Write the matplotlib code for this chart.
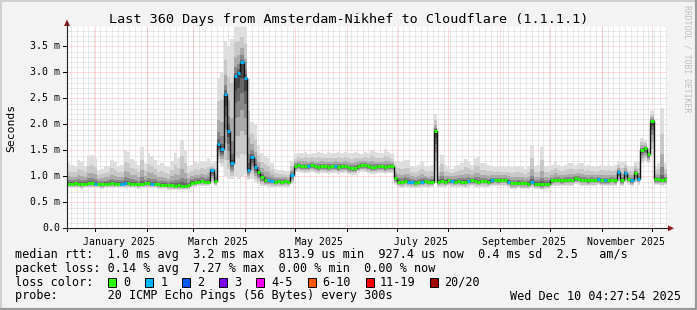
import numpy as np
import matplotlib
matplotlib.use("Agg")
import matplotlib.pyplot as plt
from matplotlib.patches import Rectangle, Polygon
from datetime import datetime, timedelta

# ---------------- data ----------------
title = "Last 360 Days from Amsterdam-Nikhef to Cloudflare (1.1.1.1)"
end_time = datetime(2025, 12, 10, 4, 27, 54)
span_days = 360
bin_days = 2

# median rtt (ms) per 2-day bin
median_ms = (
    [0.86, 0.86, 0.87, 0.86, 0.85, 0.86, 0.87, 0.87, 0.86, 0.86, 0.85, 0.86, 0.86, 0.87,
     0.86, 0.86, 0.86, 0.87, 0.87, 0.86, 0.86, 0.85, 0.86, 0.87, 0.87, 0.86, 0.86, 0.85]
    + [0.84, 0.84, 0.83, 0.83, 0.82, 0.83, 0.82, 0.82, 0.83]
    + [0.88, 0.89, 0.90, 0.91, 0.90, 0.90, 1.12, 0.91]
    + [1.62, 1.52, 2.58, 1.88, 1.26, 2.92, 2.99, 3.19, 2.89, 1.12, 1.38, 1.18, 1.09, 0.99]
    + [0.93, 0.92, 0.91, 0.90, 0.91, 0.90, 0.91, 0.90, 1.03]
    + [1.20, 1.21, 1.20, 1.19, 1.20, 1.21, 1.19, 1.18, 1.20, 1.19, 1.18, 1.19, 1.20, 1.18,
       1.19, 1.20, 1.17, 1.16, 1.16, 1.20, 1.22, 1.21, 1.19, 1.18, 1.18, 1.19, 1.19, 1.18,
       1.19, 1.19, 0.96]
    + [0.90, 0.89, 0.91, 0.90, 0.89, 0.88, 0.89, 0.90, 0.91, 0.89, 0.90, 1.88, 0.90, 0.91,
       0.90, 0.92, 0.91, 0.90, 0.91, 0.90, 0.89, 0.91, 0.92, 0.91, 0.90, 0.91, 0.91, 0.90,
       0.92, 0.93, 0.92]
    + [0.93, 0.93, 0.90, 0.87, 0.87, 0.88, 0.87, 0.87, 0.86, 0.89, 0.86, 0.86, 0.85, 0.86,
       0.86, 0.92, 0.93, 0.93, 0.92, 0.93, 0.93, 0.93, 0.96, 0.95, 0.93, 0.93, 0.92, 0.93,
       0.93, 0.94, 0.92, 0.92, 0.92, 0.93, 0.92, 1.09, 0.92, 1.07, 0.95, 0.92, 1.07, 0.95,
       1.51, 1.54, 1.42, 2.07, 0.94, 0.94, 0.93, 0.94]
)

# highest ping (ms) per bin -> top of the smoke
smoke_max_ms = (
    [1.25, 1.22, 1.20, 1.31, 1.28, 1.20, 1.39, 1.41, 1.36, 1.12, 1.15, 1.19, 1.20, 1.31,
     1.28, 1.20, 1.22, 1.50, 1.47, 1.34, 1.30, 1.22, 1.57, 1.25, 1.44, 1.40, 1.31, 1.22,
     1.25, 1.20, 1.18, 1.30, 1.44, 1.35, 1.70, 1.50, 1.20, 1.22, 1.28, 1.25, 1.30, 1.27,
     1.35, 1.25, 1.30]
    + [2.90, 3.00, 3.60, 3.50, 3.65, 3.95, 3.95, 3.95, 3.90, 2.90, 2.05, 2.00, 1.60, 1.45]
    + [1.40, 1.35, 1.25, 1.15, 1.12, 1.12, 1.10, 1.10, 1.30]
    + [1.42, 1.45, 1.44, 1.46, 1.43, 1.45, 1.44, 1.47, 1.45, 1.43, 1.46, 1.44, 1.45, 1.47,
       1.44, 1.46, 1.45, 1.44, 1.47, 1.45, 1.43, 1.46, 1.45, 1.51, 1.46, 1.44, 1.45, 1.52,
       1.46, 1.42, 1.30]
    + [1.30, 1.28, 1.31, 1.31, 1.20, 1.18, 1.22, 1.28, 1.20, 1.18, 1.22, 2.20, 1.20, 1.41,
       1.22, 1.18, 1.15, 1.20, 1.22, 1.25, 1.33, 1.30, 1.22, 1.35, 1.38, 1.25, 1.25, 1.22,
       1.20, 1.18, 1.20]
    + [1.18, 1.18, 1.20, 1.18, 1.20, 1.20, 1.18, 1.15, 1.20, 1.60, 1.20, 1.22, 1.57, 1.20,
       1.20, 1.22, 1.28, 1.22, 1.20, 1.22, 1.25, 1.25, 1.22, 1.25, 1.25, 1.20, 1.22, 1.20,
       1.18, 1.20, 1.22, 1.20, 1.22, 1.20, 1.22, 1.30, 1.28, 1.30, 1.20, 1.20, 1.28, 1.28,
       1.74, 1.70, 1.55, 2.25, 1.20, 1.25, 2.32, 1.25]
)

# lowest ping (ms) per bin -> bottom of the smoke
smoke_min_ms = (
    [0.77, 0.77, 0.78, 0.77, 0.76, 0.77, 0.78, 0.77, 0.77, 0.77, 0.76, 0.77, 0.77, 0.78,
     0.77, 0.77, 0.77, 0.78, 0.77, 0.77, 0.77, 0.76, 0.77, 0.78, 0.78, 0.77, 0.77, 0.76]
    + [0.75, 0.75, 0.74, 0.74, 0.73, 0.74, 0.73, 0.73, 0.74]
    + [0.79, 0.80, 0.81, 0.81, 0.81, 0.81, 0.85, 0.81]
    + [1.25, 1.20, 1.00, 0.95, 0.95, 1.00, 0.95, 1.00, 1.05, 0.92, 0.95, 0.90, 0.85, 0.82]
    + [0.81, 0.80, 0.80, 0.79, 0.80, 0.79, 0.80, 0.79, 0.85]
    + [1.08, 1.08, 1.07, 1.06, 1.07, 1.08, 1.06, 1.05, 1.07, 1.06, 1.05, 1.06, 1.07, 1.05,
       1.06, 1.07, 1.04, 1.03, 1.03, 1.07, 1.09, 1.08, 1.06, 1.05, 1.05, 1.06, 1.06, 1.05,
       1.06, 1.06, 0.84]
    + [0.79, 0.78, 0.80, 0.79, 0.78, 0.77, 0.78, 0.79, 0.80, 0.78, 0.79, 0.90, 0.79, 0.80,
       0.79, 0.81, 0.80, 0.79, 0.80, 0.79, 0.78, 0.80, 0.81, 0.80, 0.79, 0.80, 0.80, 0.79,
       0.81, 0.82, 0.81]
    + [0.82, 0.82, 0.79, 0.76, 0.76, 0.77, 0.76, 0.76, 0.75, 0.78, 0.75, 0.75, 0.74, 0.75,
       0.75, 0.81, 0.82, 0.82, 0.81, 0.82, 0.82, 0.82, 0.85, 0.84, 0.82, 0.82, 0.81, 0.82,
       0.82, 0.83, 0.81, 0.81, 0.81, 0.82, 0.81, 0.88, 0.81, 0.88, 0.84, 0.81, 0.88, 0.84,
       1.25, 1.30, 1.25, 1.40, 0.83, 0.83, 0.82, 0.83]
)

# bins whose median had 1 of 20 pings lost
loss_one_bins = [8, 16, 17, 25, 43, 45, 46, 47, 48, 49, 50, 51, 52, 53, 54, 55, 56,
                 60, 61, 67, 72, 80, 102, 103, 106, 115, 120, 127, 132, 139, 159, 161,
                 165, 167, 169, 171]

y_ticks = [0.0, 0.5, 1.0, 1.5, 2.0, 2.5, 3.0, 3.5]
y_tick_labels = ["0.0", "0.5 m", "1.0 m", "1.5 m", "2.0 m", "2.5 m", "3.0 m", "3.5 m"]
month_labels = ["January 2025", "March 2025", "May 2025", "July 2025",
                "September 2025", "November 2025"]
label_months = [(2025, 1), (2025, 3), (2025, 5), (2025, 7), (2025, 9), (2025, 11)]

loss_labels = ["0", "1", "2", "3", "4-5", "6-10", "11-19", "20/20"]
loss_colors = ["#26ff00", "#00b8ff", "#0059ff", "#7e00ff", "#ff00ff",
               "#ff5500", "#ff0000", "#a10000"]

stat_rows = [
    "median rtt:  1.0 ms avg  3.2 ms max  813.9 us min  927.4 us now  0.4 ms sd  2.5   am/s",
    "packet loss: 0.14 % avg  7.27 % max  0.00 % min  0.00 % now",
    "loss color:",
    "probe:       20 ICMP Echo Pings (56 Bytes) every 300s",
]
timestamp = "Wed Dec 10 04:27:54 2025"

# ---------------- figure ----------------
W, H = 697, 310
MONO = "DejaVu Sans Mono"
fig = plt.figure(figsize=(W / 100, H / 100), dpi=100, facecolor="#f3f3f3")

x0, x1 = 67, 667
y_bot, y_top = 228.3, 27.1
ax = fig.add_axes([x0 / W, (H - y_bot) / H, (x1 - x0) / W, (y_bot - y_top) / H])
ax.set_facecolor("white")
ax.set_xlim(0, span_days)
ax.set_ylim(0, 3.87)
for s in ax.spines.values():
    s.set_visible(False)
ax.tick_params(which="both", length=0, labelbottom=False, labelleft=False)

start_time = end_time - timedelta(days=span_days)


def day_of(dt):
    return (dt - start_time).total_seconds() / 86400.0


med = np.array(median_ms)
hi = np.array(smoke_max_ms)
lo = np.array(smoke_min_ms)
n = len(med)
edges = np.arange(n + 1) * bin_days
loss = np.zeros(n, dtype=int)
loss[loss_one_bins] = 1

# grid (under the smoke)
minor_c = (0.5, 0.5, 0.5, 0.32)
major_c = (1.0, 0.0, 0.0, 0.28)
dot = (0, (1, 1))
for v in np.round(np.arange(0.1, 3.87, 0.1), 2):
    if abs(v / 0.5 - round(v / 0.5)) < 1e-6:
        continue
    ax.axhline(v, color=minor_c, lw=0.72, ls=dot, zorder=1)
anchor = day_of(datetime(2025, 1, 4))
d = anchor - 3.5 * int(anchor / 3.5)
while d < span_days:
    ax.axvline(d, color=minor_c, lw=0.72, ls=dot, zorder=1)
    d += 3.5
for v in y_ticks[1:]:
    ax.axhline(v, color=major_c, lw=0.72, ls=dot, zorder=1)
month_starts = []
for m in range(1, 13):
    month_starts.append(day_of(datetime(2025, m, 1)))
for d in month_starts:
    ax.axvline(d, color=major_c, lw=0.72, ls=dot, zorder=1)

# smoke: layered shades, darker close to the median
layers = [(1.00, "#dedede"), (0.80, "#c8c8c8"), (0.60, "#aaaaaa"),
          (0.42, "#888888"), (0.27, "#666666"), (0.14, "#444444")]
for f, c in layers:
    up = med + (hi - med) * f ** 2
    dn = med - (med - lo) * f
    ax.stairs(up, edges, baseline=dn, fill=True, color=c, lw=0, zorder=2)

# median line: black transitions, coloured by loss
ax.stairs(med, edges, baseline=None, color="#111111", lw=1.0, zorder=4)
for i in range(n):
    ax.hlines(med[i], edges[i], edges[i + 1], color=loss_colors[loss[i]],
              lw=2.1, zorder=5)

# month labels
for (yy, mm), lab in zip(label_months, month_labels):
    xc = day_of(datetime(yy, mm, 15, 12))
    ax.annotate(lab, xy=(xc, 0), xycoords=("data", "axes fraction"),
                xytext=(0, -13.7 * 0.72), textcoords="offset points",
                ha="center", va="center", fontsize=7.1, family=MONO, color="#000000")
# month ticks
for d in month_starts:
    ax.plot([d, d], [0, -3 / (y_bot - y_top) * 3.87], color="#000000", lw=0.72,
            clip_on=False, zorder=6)

# y tick labels
for v, lab in zip(y_ticks, y_tick_labels):
    ax.annotate(lab, xy=(0, v), xycoords=("axes fraction", "data"),
                xytext=(-7 * 0.72, 0), textcoords="offset points",
                ha="right", va="center", fontsize=7.1, family=MONO, color="#000000")
    ax.plot([-4 * span_days / 600, 0], [v, v], color="#000000", lw=0.72,
            clip_on=False, zorder=6)

# ---------------- overlay (frame, axes, legend) ----------------
ov = fig.add_axes([0, 0, 1, 1], zorder=10)
ov.set_xlim(0, W)
ov.set_ylim(H, 0)
ov.axis("off")
ov.patch.set_alpha(0)

# 3D frame
ov.plot([0.5, 0.5, W - 1], [H - 1, 0.5, 0.5], color="#d0d0d0", lw=1.4)
ov.plot([1, W - 1, W - 1], [H - 1, H - 1, 0.5], color="#9a9a9a", lw=1.6)

# axes lines with arrows
ov.plot([x0, x0], [y_bot + 3, 22], color="#222222", lw=0.8)
ov.plot([x0 - 4, x1 + 1], [y_bot, y_bot], color="#222222", lw=0.8)
ov.add_patch(Polygon([[x0 - 3, 26], [x0 + 3, 26], [x0, 19.5]], closed=True,
                     color="#9b1c1c", lw=0))
ov.add_patch(Polygon([[x1 + 1, y_bot - 3], [x1 + 1, y_bot + 3], [x1 + 7, y_bot]],
                     closed=True, color="#9b1c1c", lw=0))

# title, axis label, watermark
ov.text(W / 2, 19, title, ha="center", va="center", fontsize=9.7, family=MONO,
        color="#000000")
ov.text(11, 128, "Seconds", rotation=90, ha="center", va="center", fontsize=8.2,
        family=MONO, color="#000000")
ov.text(687, 59, "RRDTOOL / TOBI OETIKER", rotation=270, ha="center", va="center",
        fontsize=5.9, family=MONO, color="#bdbdbd")

# statistics block
row_y = [254.3, 268.3, 282.3, 296.0]
for yy, s in zip(row_y, stat_rows):
    ov.text(15, yy, s, ha="left", va="center", fontsize=8.5, family=MONO,
            color="#000000")
ov.text(681, row_y[3], timestamp, ha="right", va="center", fontsize=8.5,
        family=MONO, color="#000000")

swatch_x = [108, 145, 182, 219, 256, 307.6, 365.8, 430]
label_x = [123.6, 160.4, 197, 234, 271, 322, 380, 444.4]
for sx, lx, c, lab in zip(swatch_x, label_x, loss_colors, loss_labels):
    ov.add_patch(Rectangle((sx, 278.3), 8.4, 8.4, facecolor=c, edgecolor="#000000",
                           lw=0.7))
    ov.text(lx, row_y[2], lab, ha="left", va="center", fontsize=8.5, family=MONO,
            color="#000000")

fig.savefig("out.png", dpi=100, facecolor=fig.get_facecolor())
